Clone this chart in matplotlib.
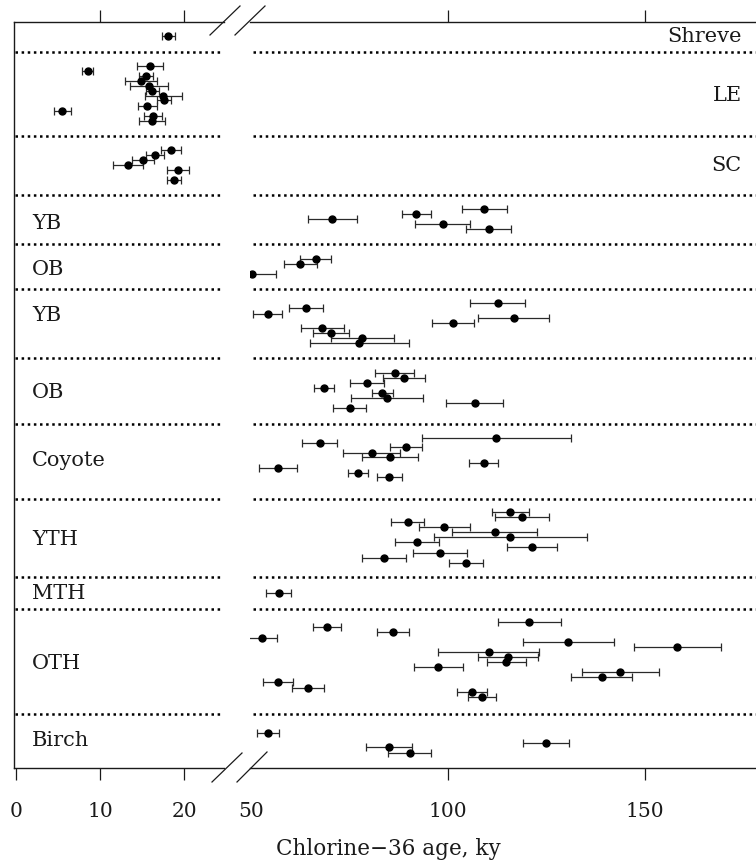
import matplotlib
matplotlib.use("Agg")
import matplotlib.pyplot as plt
from matplotlib.lines import Line2D

plt.rcParams['font.family'] = ['DejaVu Serif']

# ---- data -------------------------------------------------------------
# Vertical position of each sample is given in "lanes" (one lane per row of
# samples, counted from the top of the plot).
group_names = ["Shreve", "LE", "SC", "YB", "OB", "YB", "OB",
               "Coyote", "YTH", "MTH", "OTH", "Birch"]
group_label_lane = [2.8, 14.6, 28.6, 40.3, 49.5, 58.7, 74.0,
                    87.7, 103.4, 114.3, 128.2, 143.7]
group_label_side = ["right", "right", "right", "left", "left", "left", "left",
                    "left", "left", "left", "left", "left"]
divider_lanes = [5.9, 22.7, 34.6, 44.4, 53.4, 67.2, 80.4, 95.4, 111.0, 117.4, 138.4]

shreve_age = [18.1]
shreve_err = [0.75]
shreve_lane = [2.8]

le_age = [15.9, 8.5, 15.4, 14.8, 15.8, 16.2, 17.5, 17.6, 15.6, 5.5, 16.3, 16.15]
le_err = [1.55, 0.63, 0.83, 1.9, 2.3, 0.8, 2.2, 0.83, 1.13, 1.0, 1.05, 1.5]
le_lane = [8.8, 9.8, 10.8, 11.8, 12.7, 13.7, 14.7, 15.6, 16.8, 17.7, 18.7, 19.7]

sc_age = [18.4, 16.5, 15.1, 13.3, 19.25, 18.8]
sc_err = [1.15, 1.1, 1.3, 1.8, 1.3, 0.83]
sc_lane = [25.5, 26.5, 27.6, 28.6, 29.5, 31.5]

yb1_age = [109.2, 92.0, 70.6, 98.7, 110.3]
yb1_err = [5.7, 3.6, 6.2, 7.0, 5.6]
yb1_lane = [37.3, 38.3, 39.3, 40.3, 41.3]

ob1_age = [66.4, 62.5, 50.2]
ob1_err = [4.0, 4.2, 6.1]
ob1_lane = [47.3, 48.3, 50.3]

yb2_age = [112.6, 64.0, 54.2, 116.75, 101.2, 68.1, 70.3, 78.2, 77.5]
yb2_err = [7.0, 4.35, 3.6, 9.0, 5.3, 5.5, 4.5, 8.0, 12.5]
yb2_lane = [56.1, 57.2, 58.3, 59.1, 60.1, 61.1, 62.1, 63.1, 64.1]

ob2_age = [86.5, 88.8, 79.5, 68.5, 83.3, 84.6, 106.8, 75.1]
ob2_err = [4.9, 5.3, 4.3, 2.6, 2.7, 9.1, 7.3, 4.2]
ob2_lane = [70.1, 71.1, 72.1, 73.1, 74.1, 75.1, 76.1, 77.1]

coyote_age = [112.3, 67.4, 89.3, 80.6, 85.3, 109.1, 56.9, 77.1, 85.1]
coyote_err = [18.9, 4.4, 4.0, 7.2, 7.2, 3.7, 4.8, 2.55, 3.15]
coyote_lane = [83.1, 84.1, 85.0, 86.1, 87.0, 88.1, 89.1, 90.1, 91.0]

yth_age = [115.8, 118.8, 89.8, 99.1, 111.9, 115.8, 92.2, 121.3, 98.0, 83.8, 104.5]
yth_err = [4.7, 6.9, 4.2, 6.5, 10.8, 19.4, 5.6, 6.3, 6.9, 5.6, 4.3]
yth_lane = [98.0, 98.9, 99.9, 101.0, 102.0, 103.0, 104.0, 105.0, 106.1, 107.1, 108.1]

mth_age = [57.0]
mth_err = [3.2]
mth_lane = [114.2]

oth_age = [120.6, 69.4, 86.1, 52.8, 130.6, 158.2, 110.4, 115.2,
           114.8, 97.6, 143.8, 139.0, 56.9, 64.5, 106.1, 108.6]
oth_err = [8.0, 3.55, 4.0, 3.9, 11.5, 11.0, 12.8, 7.6,
           5.0, 6.1, 9.7, 7.7, 3.75, 4.1, 3.8, 3.6]
oth_lane = [119.9, 121.0, 122.0, 123.1, 123.9, 124.9, 125.9, 126.9,
            127.9, 129.0, 129.9, 131.0, 132.0, 133.1, 134.0, 135.0]

birch_age = [54.3, 124.9, 85.1, 90.3]
birch_err = [2.85, 5.8, 5.9, 5.4]
birch_lane = [142.2, 144.1, 145.0, 146.1]

young_sets = [(shreve_age, shreve_err, shreve_lane),
              (le_age, le_err, le_lane),
              (sc_age, sc_err, sc_lane)]
old_sets = [(yb1_age, yb1_err, yb1_lane), (ob1_age, ob1_err, ob1_lane),
            (yb2_age, yb2_err, yb2_lane), (ob2_age, ob2_err, ob2_lane),
            (coyote_age, coyote_err, coyote_lane), (yth_age, yth_err, yth_lane),
            (mth_age, mth_err, mth_lane), (oth_age, oth_err, oth_lane),
            (birch_age, birch_err, birch_lane)]

left_ticks = [0, 10, 20]
right_ticks = [50, 100, 150]
x_label = "Chlorine\u221236 age, ky"

# ---- figure -----------------------------------------------------------
W, H = 756, 863
fig = plt.figure(figsize=(W / 100, H / 100), dpi=100)

def px_box(x0, x1, ytop, ybot):
    return [x0 / W, (H - ybot) / H, (x1 - x0) / W, (ybot - ytop) / H]

ax_l = fig.add_axes(px_box(14, 224, 22, 768))
ax_r = fig.add_axes(px_box(250, 756, 22, 768))

INK = '#1a1a1a'
LANE_MAX = 149.2
for ax in (ax_l, ax_r):
    ax.set_ylim(LANE_MAX, 0)
    ax.set_yticks([])
    ax.set_facecolor('none')
    for side in ('top', 'bottom'):
        ax.spines[side].set_linewidth(1.0)
        ax.spines[side].set_color(INK)
    ax.spines['right'].set_visible(False)
    ax.tick_params(axis='x', direction='out', length=8.5, width=0.9,
                   top=True, bottom=True, labeltop=False,
                   labelsize=14.5, pad=16, colors=INK)

ax_l.set_xlim(-0.24, 24.7)
ax_r.set_xlim(49.75, 178.2)
ax_l.spines['left'].set_linewidth(1.0)
ax_l.spines['left'].set_color(INK)
ax_r.spines['left'].set_visible(False)
ax_l.set_xticks(left_ticks)
ax_r.set_xticks(right_ticks)
# the first tick of the right panel sits on the break: keep only its label
for t in ax_r.xaxis.get_major_ticks()[:1]:
    t.tick1line.set_visible(False)
    t.tick2line.set_visible(False)
# the zero tick on top coincides with the frame corner
ax_l.xaxis.get_major_ticks()[0].tick2line.set_visible(False)

dot_style = dict(color='black', lw=1.8, linestyle=(0, (1.0, 1.45)),
                 dash_capstyle='butt')
for lane in divider_lanes:
    ax_l.plot([0.005, 0.99], [lane, lane], transform=ax_l.get_yaxis_transform(),
              **dot_style)
    ax_r.plot([0.006, 1.0], [lane, lane], transform=ax_r.get_yaxis_transform(),
              **dot_style)

eb_style = dict(fmt='o', ms=5.0, mfc='black', mec='black', ecolor='#2a2a2a',
                elinewidth=0.9, capsize=3.2, capthick=0.9)
for age, err, lane in young_sets:
    ax_l.errorbar(age, lane, xerr=err, **eb_style)
for age, err, lane in old_sets:
    ax_r.errorbar(age, lane, xerr=err, **eb_style)

for name, lane, side in zip(group_names, group_label_lane, group_label_side):
    if side == 'left':
        ax_l.text(0.086, lane, name, transform=ax_l.get_yaxis_transform(),
                  ha='left', va='center', fontsize=15, color=INK)
    else:
        ax_r.text(0.972, lane, name, transform=ax_r.get_yaxis_transform(),
                  ha='right', va='center', fontsize=15, color=INK)

# axis-break marks
def fig_line(p0, p1):
    fig.add_artist(Line2D([p0[0] / W, p1[0] / W], [(H - p0[1]) / H, (H - p1[1]) / H],
                          transform=fig.transFigure, color=INK, lw=0.9))

fig_line((210, 35), (240, 6))
fig_line((235, 35), (265, 6))
fig_line((212, 782), (242, 753))
fig_line((237, 782), (267, 752))

fig.text(388 / W, 8 / H, x_label, ha='center', va='baseline',
         fontsize=15.5, color=INK)

fig.savefig('out.png', dpi=100)
